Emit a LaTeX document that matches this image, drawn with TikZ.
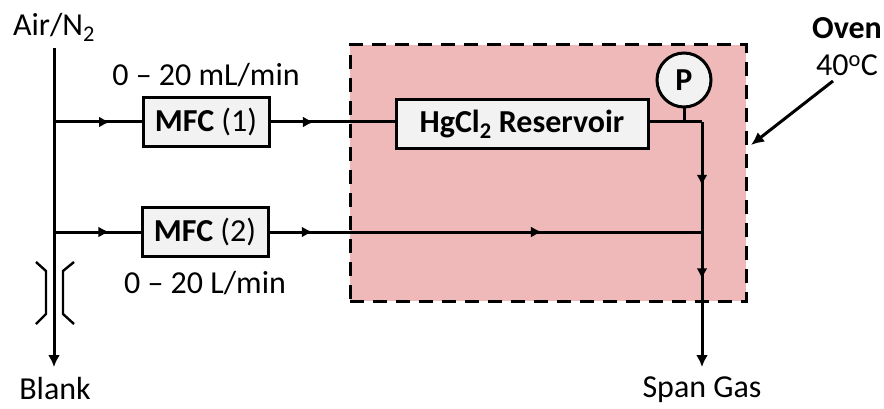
\documentclass[tikz,border=0pt]{standalone}
\usepackage{fontspec}
\setmainfont{Carlito}
\usepackage{xcolor}
\usepackage{tikz}
\usetikzlibrary{calc, positioning, arrows.meta, decorations.markings}
\definecolor{ovenred}{HTML}{EFB9B9}
\definecolor{boxgray}{HTML}{F2F2F2}
\tikzset{
    pipe/.style={line width=3pt},
    endarrow/.style={-{Latex[length=12pt,width=12pt]}},
    flowmark/.style={postaction={decorate,decoration={markings,mark=at position #1 with {\arrow{Latex[length=11pt,width=11pt]}}}}},
    devbox/.style={draw, line width=3pt, fill=boxgray, minimum height=49pt, inner sep=0pt, font=\fontsize{32}{36}\selectfont},
    lbl/.style={font=\fontsize{32}{36}\selectfont, inner sep=0pt}
}
\begin{document}
\begin{tikzpicture}[x=1pt, y=-1pt]
    \useasboundingbox (0,0) rectangle (884,409);
    % Oven
    \node [draw, fill=ovenred, line width=3pt, dash pattern=on 14pt off 9pt, minimum width=396pt, minimum height=256pt, inner sep=0pt] (Oven) at (548,173) {};

    % Nodes
    \node [devbox, minimum width=126pt] (MFC1) at (206,122) {\textbf{MFC} (1)};
    \node [devbox, minimum width=126pt] (MFC2) at (205,232) {\textbf{MFC} (2)};
    \node [devbox, minimum width=252pt] (Res) at (522,124.5) {\textbf{HgCl\textsubscript{2} Reservoir}};
    \node [draw, circle, line width=3pt, fill=boxgray, minimum size=54pt, inner sep=0pt, font=\fontsize{32}{36}\selectfont\bfseries] (P) at (684,80) {P};

    % Labels
    \node [lbl] (Air) at (54,27) {Air/N\textsubscript{2}};
    \node [lbl, above=9pt of MFC1] (Flow1) {0 – 20 mL/min};
    \node [lbl, below=13pt of MFC2] (Flow2) {0 – 20 L/min};
    \node [lbl] (Blank) at (55,389) {Blank};
    \node [lbl] (Span) at (702,390) {Span Gas};
    \node [lbl] (OvenName) at (847,28) {\textbf{Oven}};
    \node [lbl, below=16pt of OvenName] (Temp) {40\textsuperscript{o}C};

    % Junctions
    \coordinate (Top) at (54,48);
    \coordinate (J1) at (54,122);
    \coordinate (J2) at (54,232);
    \coordinate (End1) at (54,367);
    \coordinate (Tap) at (684,122);
    \coordinate (Bend) at (702,122);
    \coordinate (Merge) at (702,232);
    \coordinate (End2) at (702,367);
    \coordinate (OvenFrom) at (833,81);
    \coordinate (OvenTo) at (751,145);

    % Paths
    \draw[pipe, endarrow] (Top) -- (End1);
    \draw[pipe, flowmark=0.64] (J1) -- (J1 -| MFC1.west);
    \draw[pipe, flowmark=0.64] (J2) -- (J2 -| MFC2.west);
    \draw[pipe, flowmark=0.35] (J1 -| MFC1.east) -- (J1 -| Res.west);
    \draw[pipe, flowmark=0.10, flowmark=0.63] (J2 -| MFC2.east) -- (Merge);
    \draw[pipe] (J1 -| Res.east) -- (Bend);
    \draw[pipe] (P) -- (Tap);
    \draw[pipe, flowmark=0.58] (Bend) -- (Merge);
    \draw[pipe, endarrow, flowmark=0.35] (Merge) -- (End2);
    \draw[line width=3pt, -{Latex[length=13pt,width=12pt]}] (OvenFrom) -- (OvenTo);

    % Restriction
    \draw[line width=2.4pt] (36,262) -- (46,271) -- (46,314) -- (36,324);
    \draw[line width=2.4pt] (74,262) -- (63,271) -- (63,314) -- (74,324);
\end{tikzpicture}
\end{document}
